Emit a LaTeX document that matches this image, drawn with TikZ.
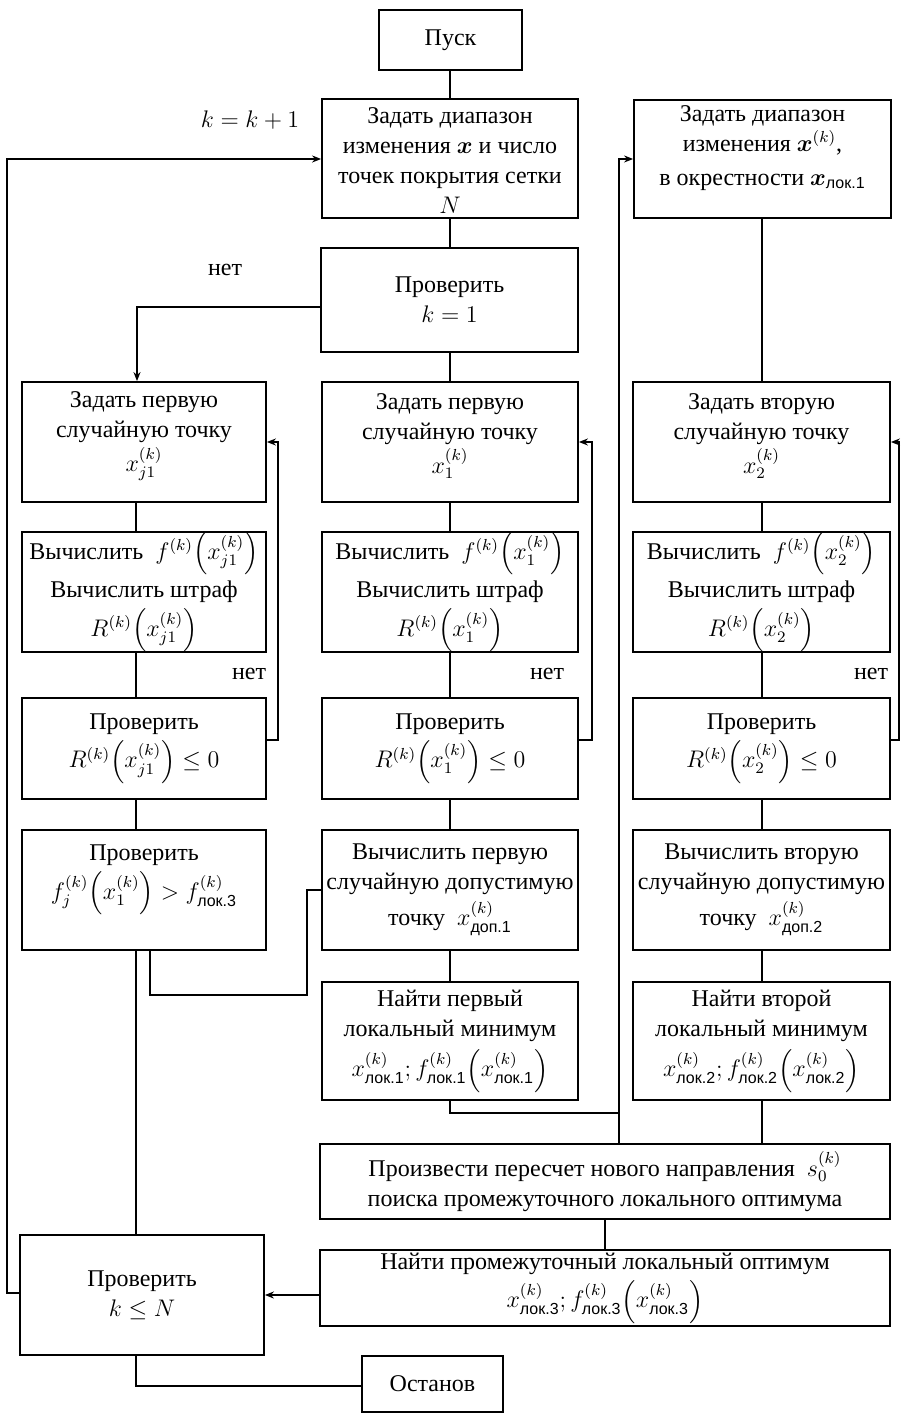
\documentclass[tikz,border=0pt]{standalone}
\usepackage{amsmath}
\usepackage{bm}
\usepackage{fontspec}
\setmainfont{Liberation Serif}
\setsansfont{Liberation Sans}
\usetikzlibrary{arrows.meta}
\newcommand{\lk}[1]{\text{\sffamily лок.#1}}
\newcommand{\dpn}[1]{\text{\sffamily доп.#1}}
\newcommand{\Pa}[1]{\Bigl(#1\Bigr)}
\begin{document}
\begin{tikzpicture}[x=0.5pt,y=-0.5pt,
  bx/.style 2 args={draw, line width=0.9pt, align=center, inner sep=0pt,
     minimum width=#1*0.5pt, minimum height=#2*0.5pt,
     font=\fontsize{12}{15}\selectfont},
  ln/.style={line width=0.9pt},
  ar/.style={line width=0.9pt, -{Stealth[length=4.5pt,width=3.5pt]}},
  lbl/.style={font=\fontsize{12}{15}\selectfont, inner sep=0pt, align=center}]
\useasboundingbox (0,0) rectangle (901,1416);

% boxes
\node[bx={143}{60}] (start) at (450.5,40) {Пуск};
\node[bx={256}{119}] (A) at (450,158.5) {};
\node[lbl] (At) at (450,161) {Задать диапазон\\изменения $\bm{x}$ и число\\точек покрытия сетки\\$N$};
\node[bx={257}{118}] (RA) at (762.5,159) {};
\node[lbl] (RAt) at (762.5,148) {Задать диапазон\\изменения $\bm{x}^{(k)}$,\\[2pt]в окрестности $\bm{x}_{\lk{1}}$};
\node[bx={257}{104}] (K1) at (449.5,300) {Проверить\\$k=1$};

\node[bx={244}{120}] (L1) at (144,442) {};
\node[lbl] (L1t) at (144,436) {Задать первую\\случайную точку\\[2pt]$x_{j1}^{(k)}$};
\node[bx={244}{120}] (L2) at (144,592) {Вычислить \ $f^{(k)}\Pa{x_{j1}^{(k)}}$\\[2pt]Вычислить штраф\\[2pt]$R^{(k)}\Pa{x_{j1}^{(k)}}$};
\node[bx={244}{101}] (L3) at (144,748.5) {Проверить\\[2pt]$R^{(k)}\Pa{x_{j1}^{(k)}}\le 0$};
\node[bx={244}{120}] (L4) at (144,890) {};
\node[lbl] (L4t) at (144,880) {Проверить\\[2pt]$f_j^{(k)}\Pa{x_1^{(k)}} > f_{\lk{3}}^{(k)}$};

\node[bx={256}{120}] (M1) at (450,442) {};
\node[lbl] (M1t) at (450,436) {Задать первую\\случайную точку\\[2pt]$x_{1}^{(k)}$};
\node[bx={256}{120}] (M2) at (450,592) {Вычислить \ $f^{(k)}\Pa{x_{1}^{(k)}}$\\[2pt]Вычислить штраф\\[2pt]$R^{(k)}\Pa{x_{1}^{(k)}}$};
\node[bx={256}{101}] (M3) at (450,748.5) {Проверить\\[2pt]$R^{(k)}\Pa{x_{1}^{(k)}}\le 0$};
\node[bx={256}{120}] (M4) at (450,890) {Вычислить первую\\случайную допустимую\\[3pt]точку \ $x_{\dpn{1}}^{(k)}$};
\node[bx={256}{118}] (M5) at (450,1041) {Найти первый\\локальный минимум\\[3pt]$x_{\lk{1}}^{(k)}; f_{\lk{1}}^{(k)}\Pa{x_{\lk{1}}^{(k)}}$};

\node[bx={257}{120}] (R1) at (761.5,442) {};
\node[lbl] (R1t) at (761.5,436) {Задать вторую\\случайную точку\\[2pt]$x_{2}^{(k)}$};
\node[bx={257}{120}] (R2) at (761.5,592) {Вычислить \ $f^{(k)}\Pa{x_{2}^{(k)}}$\\[2pt]Вычислить штраф\\[2pt]$R^{(k)}\Pa{x_{2}^{(k)}}$};
\node[bx={257}{101}] (R3) at (761.5,748.5) {Проверить\\[2pt]$R^{(k)}\Pa{x_{2}^{(k)}}\le 0$};
\node[bx={257}{120}] (R4) at (761.5,890) {Вычислить вторую\\случайную допустимую\\[3pt]точку \ $x_{\dpn{2}}^{(k)}$};
\node[bx={257}{118}] (R5) at (761.5,1041) {Найти второй\\локальный минимум\\[3pt]$x_{\lk{2}}^{(k)}; f_{\lk{2}}^{(k)}\Pa{x_{\lk{2}}^{(k)}}$};

\node[bx={570}{75}] (P) at (605,1181.5) {Произвести пересчет нового направления \ $s_0^{(k)}$\\поиска промежуточного локального оптимума};
\node[bx={570}{76}] (Q) at (605,1288) {Найти промежуточный локальный оптимум\\[2pt]$x_{\lk{3}}^{(k)}; f_{\lk{3}}^{(k)}\Pa{x_{\lk{3}}^{(k)}}$};
\node[bx={244}{120}] (KN) at (142,1295) {Проверить\\$k\le N$};
\node[bx={141}{56}] (stop) at (432.5,1384) {Останов};

% labels
\node[lbl] (lkk) at (250,120) {$k=k+1$};
\node[lbl] (n0) at (225,270) {нет};
\node[lbl] (n1) at (249,674) {нет};
\node[lbl] (n2) at (547,674) {нет};
\node[lbl] (n3) at (871,674) {нет};

% helper coordinates
\coordinate (cL) at (136,0);
\coordinate (cL2) at (150,0);
\coordinate (cM) at (450,0);
\coordinate (cR) at (762,0);
\coordinate (cV) at (619,0);

% connectors
\draw[ln] (start.south -| cM) -- (A.north -| cM);
\draw[ln] (A.south -| cM) -- (K1.north -| cM);
\draw[ln] (K1.south -| cM) -- (M1.north -| cM);
\draw[ar] (K1.west |- 0,307) -- (137,307) -- (L1.north -| 137,0);
\draw[ln] (L1.south -| cL) -- (L2.north -| cL);
\draw[ln] (L2.south -| cL) -- (L3.north -| cL);
\draw[ln] (L3.south -| cL) -- (L4.north -| cL);
\draw[ar] (L3.east |- 0,740) -- (278,740) -- (278,442) -- (L1.east);
\draw[ln] (L4.south -| cL) -- (KN.north -| cL);
\draw[ln] (L4.south -| cL2) -- (150,995) -- (307,995) -- (307,890) -- (M4.west);

\draw[ln] (M1.south -| cM) -- (M2.north -| cM);
\draw[ln] (M2.south -| cM) -- (M3.north -| cM);
\draw[ln] (M3.south -| cM) -- (M4.north -| cM);
\draw[ln] (M4.south -| cM) -- (M5.north -| cM);
\draw[ar] (M3.east |- 0,740) -- (592,740) -- (592,442) -- (M1.east);
\draw[ln] (M5.south -| cM) -- (450,1113) -- (619,1113);
\draw[ar] (P.north -| cV) -- (619,159) -- (RA.west |- 0,159);

\draw[ln] (RA.south -| cR) -- (R1.north -| cR);
\draw[ln] (R1.south -| cR) -- (R2.north -| cR);
\draw[ln] (R2.south -| cR) -- (R3.north -| cR);
\draw[ln] (R3.south -| cR) -- (R4.north -| cR);
\draw[ln] (R4.south -| cR) -- (R5.north -| cR);
\draw[ln] (R5.south -| cR) -- (P.north -| cR);
\draw[ar] (R3.east |- 0,740) -- (899,740) -- (899,442) -- (R1.east);

\draw[ln] (P.south) -- (Q.north);
\draw[ar] (Q.west |- 0,1295) -- (KN.east |- 0,1295);
\draw[ar] (KN.west |- 0,1293) -- (7,1293) -- (7,159) -- (A.west |- 0,159);
\draw[ln] (KN.south -| cL) -- (136,1386) -- (stop.west |- 0,1386);
\end{tikzpicture}
\end{document}
